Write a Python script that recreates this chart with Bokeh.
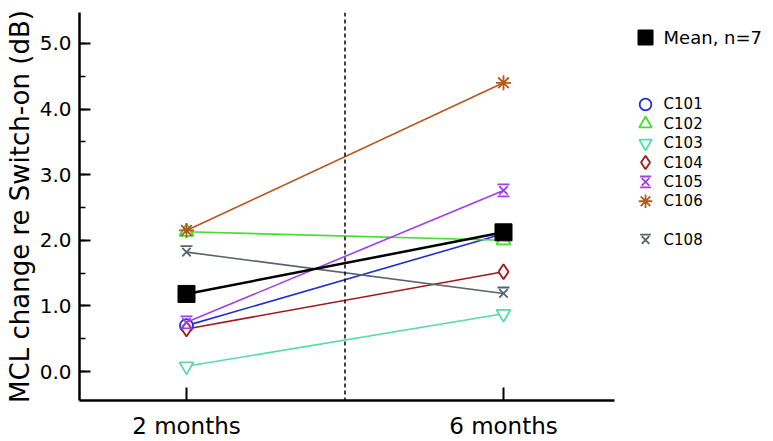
import numpy as np
from bokeh.plotting import figure
from bokeh.models import (ColumnDataSource, Span, SingleIntervalTicker, FixedTicker,
                          NumeralTickFormatter, Range1d)
from bokeh.transform import dodge
from bokeh.core.properties import value
from bokeh.embed import file_html
from bokeh.resources import INLINE

# ---------------- data ----------------
timepoints = ["2 months", "6 months"]
subjects = ["C101", "C102", "C103", "C104", "C105", "C106", "C108"]
mcl_2m = [0.70, 2.13, 0.08, 0.65, 0.75, 2.15, 1.82]
mcl_6m = [2.10, 2.00, 0.88, 1.52, 2.76, 4.40, 1.19]
mean_label = "Mean, n=7"
y_title = "MCL change re Switch-on (dB)"

# ---------------- styles ----------------
colors = ["#1f2fd0", "#48dc30", "#55dcaa", "#a31818", "#a23ee6", "#b5581c", "#59636a"]
# marker components: (marker, size, vertical offset in px)
marker_defs = [
    [("circle", 13, 0)],
    [("triangle", 14, 0)],
    [("inverted_triangle", 14, 0)],
    [("diamond", 15, 0)],
    [("x", 12, 0), ("dash", 12, 6), ("dash", 12, -6)],
    [("asterisk", 15, 0)],
    [("x", 12, 0), ("dash", 12, 6)],
]
FONT = "DejaVu Sans"

W, H = 773, 441
ML, MR, MT, MB = 79, 0, 12, 40
frame_h = H - MT - MB
x_pos = list(range(len(timepoints)))
x0, x1 = -0.3375, 1.8517
y0, y1 = -0.4407, 5.471
px_per_y = frame_h / (y1 - y0)
axis_x_end = 1.35

p = figure(width=W, height=H, output_backend="svg", toolbar_location=None,
           x_range=Range1d(x0, x1), y_range=Range1d(y0, y1),
           min_border_left=ML, min_border_right=MR, min_border_top=MT,
           min_border_bottom=MB)
p.outline_line_color = None
p.grid.visible = False

# axes
p.yaxis.ticker = SingleIntervalTicker(interval=1, num_minor_ticks=2)
p.yaxis.formatter = NumeralTickFormatter(format="0.0")
p.yaxis.major_tick_in = 11
p.yaxis.major_tick_out = 0
p.yaxis.minor_tick_in = 6
p.yaxis.minor_tick_out = 0
p.yaxis.axis_label = y_title
p.yaxis.axis_label_text_font = FONT
p.yaxis.axis_label_text_font_size = "26px"
p.yaxis.axis_label_text_font_style = "normal"
p.yaxis.axis_label_text_color = "black"
p.yaxis.axis_label_standoff = 2
p.yaxis.major_label_standoff = 8

p.xaxis.ticker = FixedTicker(ticks=x_pos)
p.xaxis.major_label_overrides = {i: t for i, t in zip(x_pos, timepoints)}
p.xaxis.major_tick_in = 13
p.xaxis.major_tick_out = 0
p.xaxis.minor_tick_line_color = None
p.xaxis.bounds = (x0, axis_x_end)
p.xaxis.major_label_standoff = 12

for ax in (p.xaxis, p.yaxis):
    ax.axis_line_width = 2.5
    ax.axis_line_color = "black"
    ax.major_tick_line_width = 2
    ax.minor_tick_line_width = 1.5
    ax.major_tick_line_color = "black"
    ax.major_label_text_font = FONT
    ax.major_label_text_color = "black"
p.yaxis.major_label_text_font_size = "20px"
p.xaxis.major_label_text_font_size = "23px"

# dashed separator between timepoints
p.add_layout(Span(location=float(np.mean(x_pos)), dimension="height",
                  line_dash="4 3", line_width=1.5, line_color="black"))


def draw_marker(src, comps, color):
    for m, s, off in comps:
        kw = dict(line_color=color, line_width=1.8)
        if m not in ("x", "dash", "asterisk"):
            kw["fill_color"] = "white"
        p.scatter(x="x", y=dodge("y", off / px_per_y, range=p.y_range), source=src,
                  marker=m, size=s, **kw)


# subject lines and markers
for subj, a, b, col, comps in zip(subjects, mcl_2m, mcl_6m, colors, marker_defs):
    src = ColumnDataSource(dict(x=x_pos, y=[a, b]))
    p.line(x="x", y="y", source=src, line_color=col, line_width=1.6)
    draw_marker(src, comps, col)

# mean
mean_vals = [float(np.mean(mcl_2m)), float(np.mean(mcl_6m))]
msrc = ColumnDataSource(dict(x=x_pos, y=mean_vals))
p.line(x="x", y="y", source=msrc, line_color="black", line_width=2.5)
p.scatter(x="x", y="y", source=msrc, marker="square", size=17,
          fill_color="black", line_color="black")

# ---------------- legend (drawn in the right-hand panel) ----------------
leg_marker_x = 1.448
leg_text_x = 1.505
leg_mean_y = 5.09
leg_top_y = 4.07
leg_step = 0.295
leg_rows = [0, 1, 2, 3, 4, 5, 7]

p.scatter(x=[leg_marker_x], y=[leg_mean_y], marker="square", size=15,
          fill_color="black", line_color="black")
p.text(x=[leg_text_x], y=[leg_mean_y], text=[mean_label], text_font=value(FONT),
       text_font_size="18px", text_baseline="middle", text_align="left", text_color="black")

for subj, col, comps, row in zip(subjects, colors, marker_defs, leg_rows):
    ly = leg_top_y - row * leg_step
    lsrc = ColumnDataSource(dict(x=[leg_marker_x], y=[ly]))
    small = [(m, s * 0.9, off * 0.9) for m, s, off in comps]
    draw_marker(lsrc, small, col)
    p.text(x=[leg_text_x], y=[ly], text=[subj], text_font=value(FONT),
           text_font_size="15px", text_baseline="middle", text_align="left",
           text_color="black")

open("out.html", "w").write(file_html(p, INLINE))
